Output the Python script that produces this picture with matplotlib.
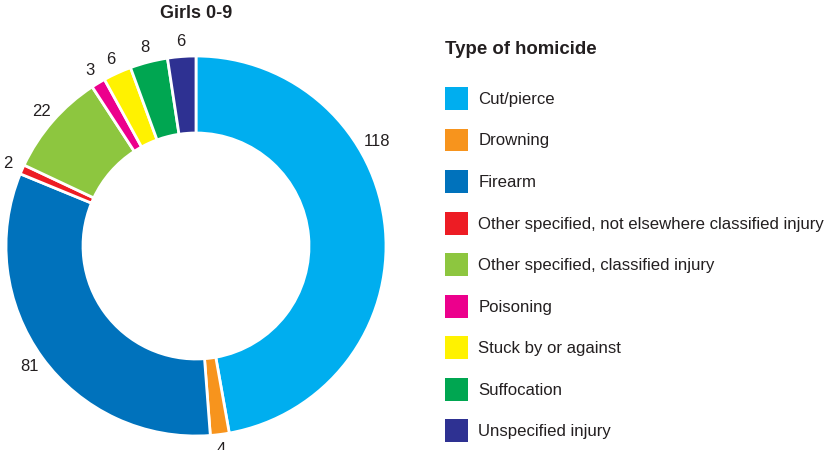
import matplotlib.pyplot as plt
import matplotlib.patches as mpatches
import numpy as np

plt.rcParams['font.family'] = ['Liberation Sans', 'DejaVu Sans']

# data
categories = ['Cut/pierce', 'Drowning', 'Firearm',
              'Other specified, not elsewhere classified injury',
              'Other specified, classified injury', 'Poisoning',
              'Stuck by or against', 'Suffocation', 'Unspecified injury']
counts = [118, 4, 81, 2, 22, 3, 6, 8, 6]
colors = ['#00AEEF', '#F7941D', '#0072BC', '#ED1C24', '#8DC63F',
          '#EC008C', '#FFF200', '#00A651', '#2E3192']
title = 'Girls 0-9'
legend_title = 'Type of homicide'

W, H = 831, 450
txt = '#231F20'
total = sum(counts)

fig = plt.figure(figsize=(W / 100, H / 100), dpi=100)
ax = fig.add_axes([0, 0, 1, 1])

cx, cy, R = 196, H - 246, 190
wedges, texts, autotexts = ax.pie(
    counts, colors=colors, startangle=90, counterclock=False,
    radius=R, center=(cx, cy),
    wedgeprops=dict(width=77, edgecolor='white', linewidth=2),
    autopct=lambda p: '%d' % round(p * total / 100), pctdistance=1.08,
    textprops=dict(fontsize=12, color=txt))

# the big slice's label sits higher up in the original
ang = np.deg2rad(30)
autotexts[0].set_position((cx + 1.1 * R * np.cos(ang), cy + 1.1 * R * np.sin(ang)))

ax.set_xlim(0, W)
ax.set_ylim(0, H)
ax.set_aspect('auto')
ax.axis('off')

fig.text(196 / W, 1 - 14 / H, title, ha='center', va='center',
         fontsize=13, fontweight='bold', color=txt)
fig.text(445 / W, 1 - 50 / H, legend_title, ha='left', va='center',
         fontsize=13.4, fontweight='bold', color=txt)

handles = [mpatches.Patch(facecolor=c, edgecolor='none') for c in colors]
leg = fig.legend(handles, categories, loc='upper left',
                 bbox_to_anchor=(445 / W, 1 - 87 / H), frameon=False,
                 borderpad=0, borderaxespad=0, fontsize=12.1,
                 handlelength=1.37, handleheight=1.72, handletextpad=0.62,
                 labelspacing=1.11)
for t in leg.get_texts():
    t.set_color(txt)

fig.savefig('out.png', dpi=100)
